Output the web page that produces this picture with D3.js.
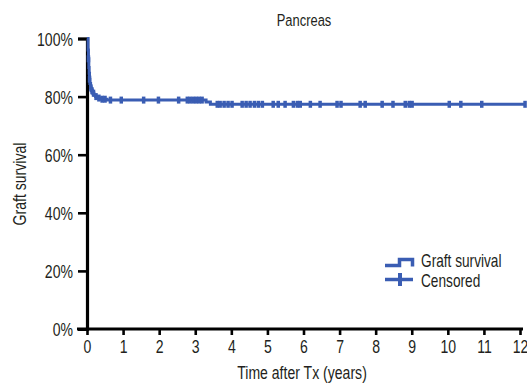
<!DOCTYPE html>
<html>
<head>
<meta charset="utf-8">
<script src="https://cdn.jsdelivr.net/npm/d3@7"></script>
<style>
  html, body { margin: 0; padding: 0; background: #fff; }
  svg { display: block; }
  text { font-family: "Liberation Sans", Arial, sans-serif; fill: #231f20; }
</style>
</head>
<body>
<svg id="chart" width="527" height="384"></svg>
<script>
// Kaplan-Meier step curve: time (years) at which survival changes, and the new survival level
const eventTimes = [0, 0.03, 0.04, 0.05, 0.06, 0.07, 0.08, 0.1, 0.12, 0.15, 0.19, 0.24, 0.3, 0.4, 0.55, 3.3, 3.42];
const survival   = [1.0, 0.96, 0.93, 0.90, 0.88, 0.86, 0.845, 0.83, 0.82, 0.812, 0.805, 0.80, 0.795, 0.791, 0.788, 0.781, 0.7735];
const followUpEnd = 12.14;

// Censored observations (years)
const censorTimes = [0.04, 0.07, 0.11, 0.14, 0.18, 0.25, 0.33, 0.42, 0.5, 0.65, 0.95,
  1.57, 1.98, 2.54, 2.78, 2.86, 2.95, 3.03, 3.11, 3.19,
  3.61, 3.69, 3.80, 3.91, 4.02, 4.30, 4.41, 4.52, 4.64, 4.75, 4.86,
  5.16, 5.30, 5.49, 5.72, 5.83, 5.91, 6.19, 6.46, 6.93, 7.04, 7.57, 7.71,
  8.18, 8.48, 8.82, 8.93, 9.01, 10.04, 10.36, 10.94, 12.14];

const xTicks = [0, 1, 2, 3, 4, 5, 6, 7, 8, 9, 10, 11, 12];
const yTicks = [0, 0.2, 0.4, 0.6, 0.8, 1.0];
const legendLabels = ["Graft survival", "Censored"];

const blue = "#3a5db3";
const narrow = 0.76;   // horizontal squeeze giving a condensed face
const svg = d3.select("#chart");

const x = d3.scaleLinear().domain([0, 12]).range([87, 520]);
const y = d3.scaleLinear().domain([0, 1]).range([329, 38.5]);

// Survival level in force at time t
function survAt(t) {
  let s = survival[0];
  for (let i = 0; i < eventTimes.length; i++) if (eventTimes[i] <= t) s = survival[i];
  return s;
}

// Condensed text placed at (px, py)
function label(parent, px, py, str, size, anchor, rotate) {
  const g = parent.append("g")
    .attr("transform", `translate(${px},${py})` + (rotate ? ` rotate(${rotate})` : ""));
  return g.append("text")
    .attr("transform", `scale(${narrow},1)`)
    .attr("text-anchor", anchor || "start")
    .attr("font-size", size)
    .text(str);
}

// Axes
const fmtPct = d => Math.round(d * 100) + "%";
const yAxis = svg.append("g")
  .attr("transform", `translate(${x(0)},0)`)
  .call(d3.axisLeft(y).tickValues(yTicks).tickFormat(fmtPct).tickSizeOuter(0).tickSize(9));
const xAxis = svg.append("g")
  .attr("transform", `translate(0,${y(0)})`)
  .call(d3.axisBottom(x).tickValues(xTicks).tickFormat(d3.format("d")).tickSizeOuter(0).tickSize(6));

[yAxis, xAxis].forEach(g => {
  g.select(".domain").attr("stroke", "#000").attr("stroke-width", 3.2);
  g.selectAll(".tick line").attr("stroke", "#000").attr("stroke-width", 2.6);
  g.selectAll(".tick text").attr("font-size", 18.5).attr("fill", "#231f20")
    .style("font-family", '"Liberation Sans", Arial, sans-serif')
    .attr("transform", `scale(${narrow},1)`);
});
yAxis.selectAll(".tick text").attr("x", -14 / narrow).attr("dy", "0.36em");
xAxis.selectAll(".tick text").attr("y", 11).attr("dy", "0.71em");
xAxis.select(".domain").attr("d", `M${x(0) - 10},0H${x(12) + 3}`);

// Survival curve as a step function
const pts = eventTimes.map((t, i) => [t, survival[i]]);
pts.push([followUpEnd, survival[survival.length - 1]]);
const line = d3.line().x(d => x(d[0])).y(d => y(d[1])).curve(d3.curveStepAfter);
svg.append("path")
  .attr("d", line(pts))
  .attr("fill", "none")
  .attr("stroke", blue)
  .attr("stroke-width", 3);

// Censor marks
svg.append("g").selectAll("line")
  .data(censorTimes)
  .join("line")
  .attr("x1", d => x(d)).attr("x2", d => x(d))
  .attr("y1", d => y(survAt(d)) - 3.5)
  .attr("y2", d => y(survAt(d)) + 3.5)
  .attr("stroke", blue)
  .attr("stroke-width", 3.5);

// Title and axis labels
label(svg, 304, 26, "Pancreas", 17, "middle");
label(svg, 302, 379, "Time after Tx (years)", 18.5, "middle");
label(svg, 26, 184, "Graft survival", 18.5, "middle", -90);

// Legend
const lg = svg.append("g");
lg.append("path").attr("d", "M385,265.5H399.5V259.5H412.5V266.5")
  .attr("fill", "none").attr("stroke", blue).attr("stroke-width", 3.5);
lg.append("line").attr("x1", 385).attr("x2", 413).attr("y1", 279.5).attr("y2", 279.5)
  .attr("stroke", blue).attr("stroke-width", 3.5);
lg.append("line").attr("x1", 400).attr("x2", 400).attr("y1", 273).attr("y2", 286)
  .attr("stroke", blue).attr("stroke-width", 4);
legendLabels.forEach((d, i) => label(lg, 421, 267 + i * 20, d, 18, "start"));
</script>
</body>
</html>
